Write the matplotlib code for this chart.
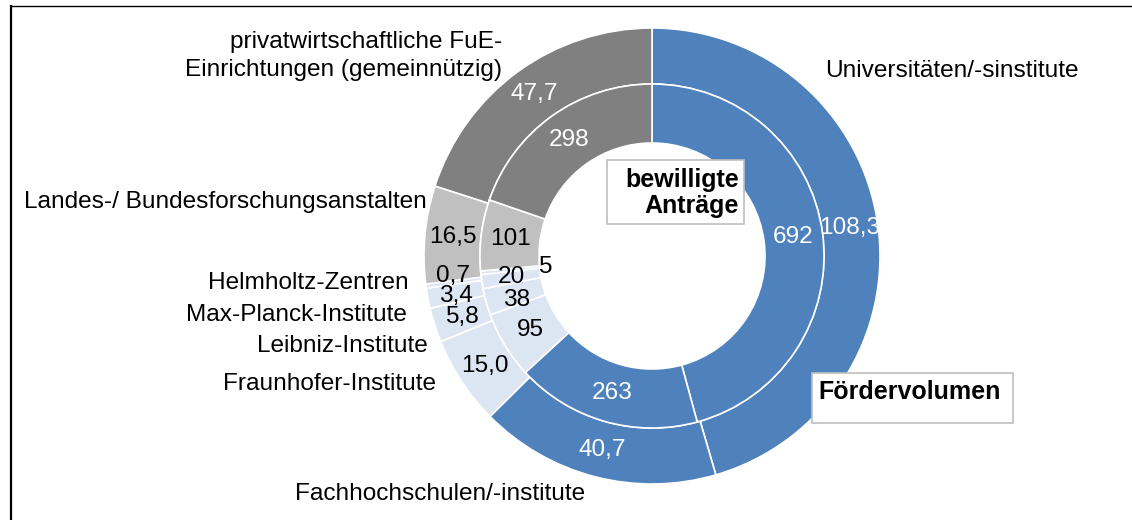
import numpy as np
import matplotlib.pyplot as plt
from matplotlib.patches import Rectangle

plt.rcParams['font.family'] = ['Liberation Sans', 'DejaVu Sans']

# Daten (Reihenfolge im Uhrzeigersinn ab 12 Uhr)
einrichtungen = ["Universitäten/-sinstitute", "Fachhochschulen/-institute",
                 "Fraunhofer-Institute", "Leibniz-Institute", "Max-Planck-Institute",
                 "Helmholtz-Zentren", "Landes-/ Bundesforschungsanstalten",
                 "privatwirtschaftliche FuE-\nEinrichtungen (gemeinnützig)"]
foerdervolumen = [108.3, 40.7, 15.0, 5.8, 3.4, 0.7, 16.5, 47.7]
antraege = [692, 263, 95, 38, 20, 5, 101, 298]

farben = ['#4F81BD', '#4F81BD', '#DCE6F2', '#DCE6F2', '#DCE6F2', '#DCE6F2',
          '#C0C0C0', '#808080']
schriftfarben = ['white', 'white', 'black', 'black', 'black', 'black', 'black', 'white']

W, H = 1132, 520


def py(y):
    # Bildzeile -> Achsenkoordinate
    return H - y


fig = plt.figure(figsize=(W / 100, H / 100), dpi=100)
ax = fig.add_axes([0, 0, 1, 1])

cx, cy = 652, py(256)
r_aussen, r_mitte, r_loch = 228, 172, 113
kante = dict(edgecolor='white', linewidth=1.2)

aussen, _ = ax.pie(foerdervolumen, radius=r_aussen, center=(cx, cy), startangle=90,
                   counterclock=False, colors=farben,
                   wedgeprops=dict(width=r_aussen - r_mitte, **kante))
innen, _ = ax.pie(antraege, radius=r_mitte, center=(cx, cy), startangle=90,
                  counterclock=False, colors=farben,
                  wedgeprops=dict(width=r_mitte - r_loch, **kante))

fs = 17.6

# kleine Winkelkorrekturen, damit sich enge Beschriftungen nicht decken
versatz_aussen = [0, 0, 0, 0, 0.8, -1.8, 0, 0]
versatz_innen = [0, 0, 0, 2.5, 0, 0, 0, 0]

# Werte in den Ringen
for w, v, c, d in zip(aussen, foerdervolumen, schriftfarben, versatz_aussen):
    a = np.deg2rad((w.theta1 + w.theta2) / 2 + d)
    r = (r_aussen + r_mitte) / 2
    ax.text(cx + r * np.cos(a), cy + r * np.sin(a), f"{v:.1f}".replace('.', ','),
            ha='center', va='center', fontsize=fs, color=c)

for w, v, c, d in zip(innen, antraege, schriftfarben, versatz_innen):
    a = np.deg2rad((w.theta1 + w.theta2) / 2 + d)
    r = (r_mitte + r_loch) / 2
    if v == 5:
        r = 108  # kleiner Wert liegt im Loch
        c = 'black'
    ax.text(cx + r * np.cos(a), cy + r * np.sin(a), str(v),
            ha='center', va='center', fontsize=fs, color=c)

# Kategorienbeschriftungen
ax.text(825, py(71), einrichtungen[0], ha='left', va='center', fontsize=fs)
ax.text(295, py(494), einrichtungen[1], ha='left', va='center', fontsize=fs)
ax.text(436, py(384), einrichtungen[2], ha='right', va='center', fontsize=fs)
ax.text(428, py(346), einrichtungen[3], ha='right', va='center', fontsize=fs)
ax.text(407, py(315), einrichtungen[4], ha='right', va='center', fontsize=fs)
ax.text(409, py(283), einrichtungen[5], ha='right', va='center', fontsize=fs)
ax.text(427, py(202), einrichtungen[6], ha='right', va='center', fontsize=fs)
ax.text(502, py(56), einrichtungen[7], ha='right', va='center', fontsize=fs,
        multialignment='right', linespacing=1.35)

# Ring-Legenden
ax.add_patch(Rectangle((607, py(224)), 137, 64, facecolor='white',
                       edgecolor='#BFBFBF', linewidth=1.2))
ax.text(739, py(193), "bewilligte\nAnträge", ha='right', va='center', fontsize=18,
        fontweight='bold', multialignment='right', linespacing=1.15)
ax.add_patch(Rectangle((812, py(423)), 201, 50, facecolor='white',
                       edgecolor='#BFBFBF', linewidth=1.2))
ax.text(818, py(392), "Fördervolumen", ha='left', va='center', fontsize=18,
        fontweight='bold')

# Rahmen oben und links
ax.plot([11, W], [py(6), py(6)], color='black', linewidth=1.0)
ax.plot([11, 11], [py(6), 0], color='black', linewidth=1.6)

ax.set_xlim(0, W)
ax.set_ylim(0, H)
ax.set_aspect('equal')
ax.axis('off')

fig.savefig("out.png", dpi=100)
